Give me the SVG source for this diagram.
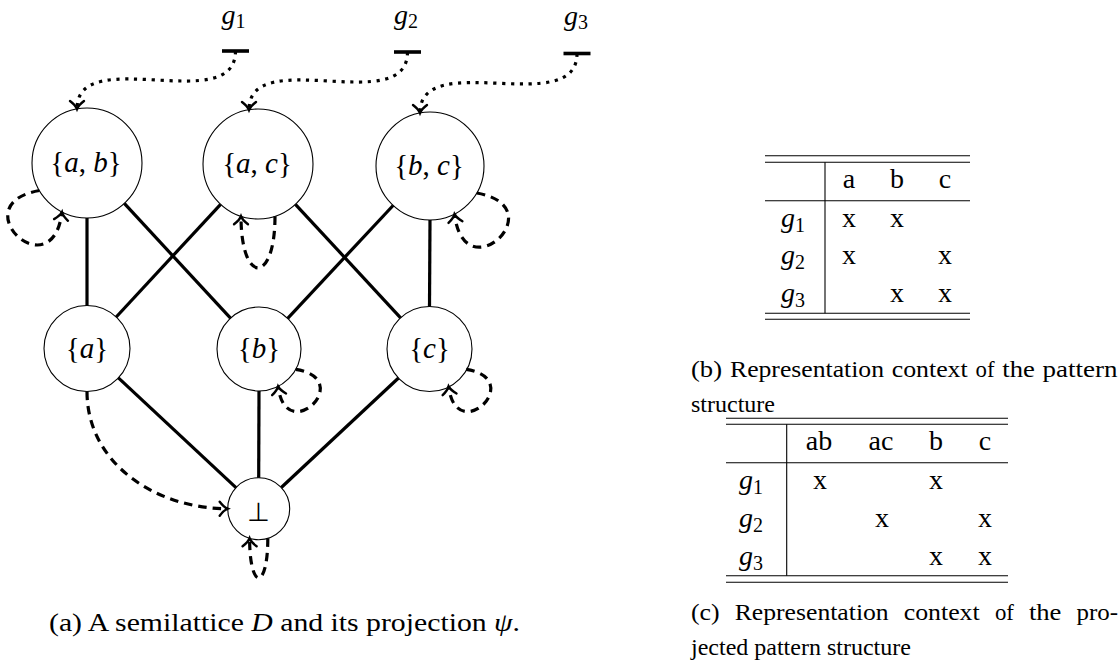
<svg xmlns="http://www.w3.org/2000/svg" width="1118" height="664" viewBox="0 0 1118 664">
<defs>
<style>
text{font-family:'Liberation Serif','Times New Roman',serif;fill:#000}
.lbl{font-family:'Liberation Serif','Times New Roman',serif;font-size:29px;text-anchor:middle}
.glbl{font-family:'Liberation Serif','Times New Roman',serif;font-size:28px;text-anchor:middle}
.it{font-style:italic}
.sub{font-size:20px}
.node{fill:#fff;stroke:#000;stroke-width:1.1}
.edge{stroke:#000;stroke-width:3.2;fill:none}
.loop{stroke:#000;stroke-width:3.2;fill:none;stroke-dasharray:8.5 6;marker-end:url(#tip)}
.dot{stroke:#000;stroke-width:3.2;fill:none;stroke-dasharray:3.2 5.6;marker-start:url(#bar);marker-end:url(#tip)}
.rule{stroke:#000;stroke-width:1.1}
.tb{font-family:'Liberation Serif','Times New Roman',serif;font-size:28px;text-anchor:middle}
.cap{font-family:'Liberation Serif','Times New Roman',serif;font-size:24px}
.capa{font-family:'Liberation Serif','Times New Roman',serif;font-size:25px}
.bot{font-family:'DejaVu Sans',sans-serif;font-size:26px;text-anchor:middle}
</style>
<marker id="tip" markerUnits="userSpaceOnUse" orient="auto" refX="0" refY="0" markerWidth="20" markerHeight="20" viewBox="-10 -10 20 20" overflow="visible">
<path d="M-8,-7 C-5,-3 -2,-0.8 0,0 C-2,0.8 -5,3 -8,7" fill="none" stroke="#000" stroke-width="2.4" stroke-linecap="round" stroke-dasharray="none"/>
</marker>
<marker id="bar" markerUnits="userSpaceOnUse" orient="auto" refX="0" refY="0" markerWidth="30" markerHeight="30" viewBox="-15 -15 30 30" overflow="visible">
<path d="M0,-13.5 L0,13.5" fill="none" stroke="#000" stroke-width="3.6" stroke-dasharray="none"/>
</marker>
</defs>

<g id="labels">
<g id="g1"><text class="glbl" x="233.5" y="23.8"><tspan class="it">g</tspan><tspan class="sub" dy="4">1</tspan></text></g>
<g id="g2"><text class="glbl" x="406" y="24"><tspan class="it">g</tspan><tspan class="sub" dy="4">2</tspan></text></g>
<g id="g3"><text class="glbl" x="576" y="25"><tspan class="it">g</tspan><tspan class="sub" dy="4">3</tspan></text></g>
</g>

<g id="n-ab"><circle class="node" cx="87" cy="163" r="55"/><text class="lbl" x="86" y="172">{<tspan class="it">a</tspan>, <tspan class="it">b</tspan>}</text></g>
<g id="n-ac"><circle class="node" cx="258" cy="164" r="55"/><text class="lbl" x="257" y="173">{<tspan class="it">a</tspan>, <tspan class="it">c</tspan>}</text></g>
<g id="n-bc"><circle class="node" cx="430" cy="166" r="54"/><text class="lbl" x="429" y="175">{<tspan class="it">b</tspan>, <tspan class="it">c</tspan>}</text></g>
<g id="n-a"><circle class="node" cx="87" cy="348.5" r="43"/><text class="lbl" x="87" y="358">{<tspan class="it">a</tspan>}</text></g>
<g id="n-b"><circle class="node" cx="259" cy="349" r="42"/><text class="lbl" x="259" y="358">{<tspan class="it">b</tspan>}</text></g>
<g id="n-c"><circle class="node" cx="429.5" cy="349" r="42.5"/><text class="lbl" x="429.5" y="358">{<tspan class="it">c</tspan>}</text></g>
<g id="n-bot"><circle class="node" cx="258.7" cy="508.7" r="31"/><text class="bot" x="258.5" y="521">⊥</text></g>

<g id="connectors">
<line class="edge" x1="87" y1="218" x2="87" y2="305.5"/>
<line class="edge" x1="124.3" y1="203.4" x2="230.5" y2="318.2"/>
<line class="edge" x1="220.6" y1="204.3" x2="116.2" y2="317"/>
<line class="edge" x1="295.4" y1="204.3" x2="400.6" y2="317.8"/>
<line class="edge" x1="393.1" y1="205.5" x2="287.7" y2="318.3"/>
<line class="edge" x1="430" y1="220" x2="429.5" y2="306.5"/>
<line class="edge" x1="118.4" y1="377.8" x2="236" y2="487.6"/>
<line class="edge" x1="259" y1="391" x2="258.7" y2="477.7"/>
<line class="edge" x1="398.5" y1="378" x2="281.3" y2="487.5"/>

<path class="dot" d="M235.5,51 C235.5,117.5 77,42.5 77,109"/>
<path class="dot" d="M407.5,52 C407.5,118.5 249,43.5 249,110"/>
<path class="dot" d="M577,53.5 C577,119.5 420,47 420,113"/>

<path class="loop" d="M39.4,190.5 C-39.4,204.4 52.3,291.4 62,212"/>
<path class="loop" d="M275,216.3 C275,285 241,285 241,216.3"/>
<path class="loop" d="M476.8,193 C555.6,206.9 464.2,293.5 454.5,214.1"/>
<path class="loop" d="M295.7,369.4 C356.9,379.1 285.7,447.9 278.1,386.4"/>
<path class="loop" d="M466.2,369.4 C527.4,379.1 456.2,447.9 448.6,386.4"/>
<path class="loop" d="M267.8,538.3 C267.8,591 249.6,591 249.6,538.3"/>
<path class="loop" d="M87,391.5 C87,463.5 155.7,508.7 227.7,508.7"/>
</g>

<g id="table-b">
<line class="rule" x1="765" y1="155.7" x2="970" y2="155.7"/>
<line class="rule" x1="765" y1="162.3" x2="970" y2="162.3"/>
<line class="rule" x1="765" y1="200.7" x2="970" y2="200.7"/>
<line class="rule" x1="765" y1="313.3" x2="970" y2="313.3"/>
<line class="rule" x1="765" y1="319.3" x2="970" y2="319.3"/>
<line class="rule" x1="825" y1="162.3" x2="825" y2="313.3"/>
<text class="tb" x="849" y="188">a</text><text class="tb" x="897" y="188">b</text><text class="tb" x="945" y="188">c</text>
<text class="tb" x="793" y="227"><tspan class="it">g</tspan><tspan class="sub" dy="4.5">1</tspan></text>
<text class="tb" x="793" y="264"><tspan class="it">g</tspan><tspan class="sub" dy="4.5">2</tspan></text>
<text class="tb" x="793" y="302"><tspan class="it">g</tspan><tspan class="sub" dy="4.5">3</tspan></text>
<text class="tb" x="849" y="227">x</text><text class="tb" x="897" y="227">x</text>
<text class="tb" x="849" y="264">x</text><text class="tb" x="945" y="264">x</text>
<text class="tb" x="897" y="302">x</text><text class="tb" x="945" y="302">x</text>
</g>

<g id="table-c">
<line class="rule" x1="726" y1="418.3" x2="1008" y2="418.3"/>
<line class="rule" x1="726" y1="424.3" x2="1008" y2="424.3"/>
<line class="rule" x1="726" y1="462.7" x2="1008" y2="462.7"/>
<line class="rule" x1="726" y1="575.7" x2="1008" y2="575.7"/>
<line class="rule" x1="726" y1="582.3" x2="1008" y2="582.3"/>
<line class="rule" x1="786.7" y1="424.3" x2="786.7" y2="575.7"/>
<text class="tb" x="819" y="450">ab</text><text class="tb" x="881" y="450">ac</text><text class="tb" x="936" y="450">b</text><text class="tb" x="985" y="450">c</text>
<text class="tb" x="751" y="489"><tspan class="it">g</tspan><tspan class="sub" dy="4.5">1</tspan></text>
<text class="tb" x="751" y="527"><tspan class="it">g</tspan><tspan class="sub" dy="4.5">2</tspan></text>
<text class="tb" x="751" y="565"><tspan class="it">g</tspan><tspan class="sub" dy="4.5">3</tspan></text>
<text class="tb" x="820" y="489">x</text><text class="tb" x="936" y="489">x</text>
<text class="tb" x="882" y="527">x</text><text class="tb" x="985" y="527">x</text>
<text class="tb" x="936" y="565">x</text><text class="tb" x="985" y="565">x</text>
</g>

<g id="captions">
<text class="capa" x="49" y="631" textLength="471" lengthAdjust="spacingAndGlyphs">(a) A semilattice <tspan class="it">D</tspan> and its projection <tspan class="it">ψ</tspan>.</text>
<text class="cap" y="377"><tspan x="691" textLength="31" lengthAdjust="spacingAndGlyphs">(b)</tspan><tspan x="730" textLength="154" lengthAdjust="spacingAndGlyphs">Representation</tspan><tspan x="891.7" textLength="76" lengthAdjust="spacingAndGlyphs">context</tspan><tspan x="975.6" textLength="19" lengthAdjust="spacingAndGlyphs">of</tspan><tspan x="1002.3" textLength="32.5" lengthAdjust="spacingAndGlyphs">the</tspan><tspan x="1042.6" textLength="75" lengthAdjust="spacingAndGlyphs">pattern</tspan></text>
<text class="cap" x="691" y="412">structure</text>
<text class="cap" y="620"><tspan x="691" textLength="28.6" lengthAdjust="spacingAndGlyphs">(c)</tspan><tspan x="734.7" textLength="154" lengthAdjust="spacingAndGlyphs">Representation</tspan><tspan x="903.7" textLength="76" lengthAdjust="spacingAndGlyphs">context</tspan><tspan x="994.9" textLength="19" lengthAdjust="spacingAndGlyphs">of</tspan><tspan x="1028.9" textLength="32.5" lengthAdjust="spacingAndGlyphs">the</tspan><tspan x="1076.5" textLength="41.5" lengthAdjust="spacingAndGlyphs">pro-</tspan></text>
<text class="cap" x="691" y="655">jected pattern structure</text>
</g>
</svg>
